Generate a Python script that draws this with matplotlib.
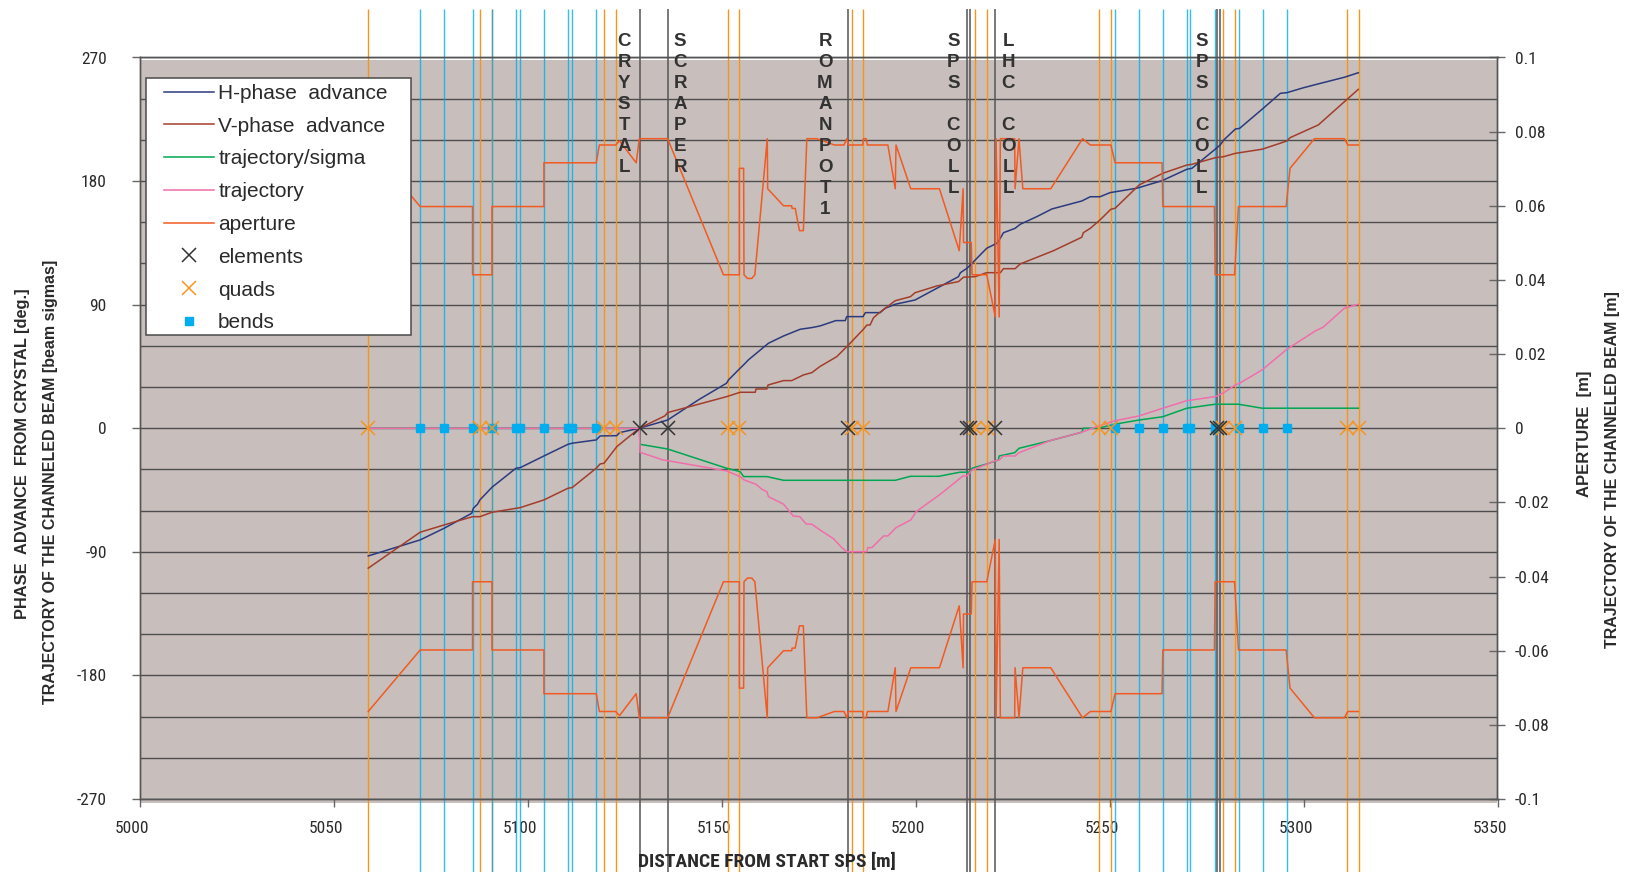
import numpy as np
import matplotlib
matplotlib.use("Agg")
import matplotlib.pyplot as plt
from matplotlib import font_manager as fm
from matplotlib.lines import Line2D
from matplotlib.patches import Rectangle
from matplotlib.transforms import blended_transform_factory, ScaledTranslation
from matplotlib.ticker import MultipleLocator, FixedLocator, FuncFormatter

plt.rcParams["axes.unicode_minus"] = False

# ---------------- data ----------------
# phase advance from the crystal [deg]
h_phase_s = [5058.8, 5072.2, 5078.4, 5085.5, 5085.9, 5087.0, 5087.6, 5090.7, 5096.9, 5098.0,
             5104.1, 5110.3, 5111.4, 5117.6, 5118.6, 5122.9, 5123.6, 5128.7, 5136.0, 5143.9,
             5151.2, 5151.7, 5154.7, 5156.0, 5156.8, 5162.0, 5165.9, 5168.0, 5170.2, 5173.2,
             5175.3, 5179.4, 5181.8, 5182.2, 5186.4, 5187.0, 5190.8, 5192.1, 5194.7, 5199.8,
             5205.4, 5211.0, 5211.5, 5213.2, 5214.5, 5215.3, 5218.3, 5220.9, 5221.8, 5222.6,
             5225.6, 5226.9, 5231.2, 5235.1, 5242.8, 5245.0, 5247.5, 5250.1, 5257.0, 5263.5,
             5269.9, 5271.2, 5277.2, 5278.5, 5279.4, 5282.4, 5283.5, 5289.3, 5294.0, 5295.7,
             5300.0, 5303.4, 5310.5, 5314.1]
h_phase_deg = [-93.0, -81.3, -72.8, -61.9, -58.3, -55.3, -52.2, -43.0, -29.1, -28.7,
               -20.2, -11.7, -10.9, -8.5, -5.6, -5.4, -3.2, 0.0, 6.0, 20.6,
               32.8, 35.2, 43.7, 47.3, 49.7, 61.9, 67.2, 69.6, 72.1, 73.3,
               74.5, 78.4, 78.4, 81.3, 81.3, 84.2, 84.2, 87.4, 90.3, 93.4,
               101.9, 110.4, 113.3, 116.5, 120.1, 122.5, 131.1, 134.7, 138.4, 142.4,
               145.6, 148.5, 154.1, 159.7, 165.5, 168.6, 168.6, 171.6, 174.8, 180.3,
               188.6, 189.3, 203.2, 206.3, 209.9, 217.9, 218.4, 232.3, 243.9, 244.4,
               248.0, 250.5, 255.6, 258.9]

v_phase_s = [5058.8, 5072.2, 5078.4, 5085.7, 5087.6, 5090.7, 5098.0, 5104.1, 5110.3, 5111.4,
             5117.6, 5118.6, 5119.6, 5122.9, 5128.7, 5135.3, 5136.0, 5151.2, 5154.7, 5158.6,
             5158.8, 5161.6, 5161.9, 5165.9, 5168.0, 5171.0, 5173.2, 5175.3, 5179.6, 5182.2,
             5186.5, 5187.4, 5188.2, 5189.1, 5190.4, 5194.7, 5198.6, 5199.8, 5205.4, 5211.0,
             5212.3, 5215.3, 5218.3, 5221.8, 5222.6, 5225.6, 5226.9, 5235.5, 5242.8, 5243.2,
             5245.0, 5247.5, 5250.3, 5251.4, 5257.6, 5263.7, 5269.9, 5271.2, 5277.2, 5279.4,
             5282.4, 5289.3, 5295.7, 5296.5, 5303.8, 5314.1]
v_phase_deg = [-101.9, -75.7, -70.4, -64.4, -64.4, -61.2, -57.8, -52.2, -43.7, -43.2,
               -29.1, -26.0, -25.5, -13.4, 0.0, 9.0, 11.4, 23.0, 26.2, 26.2,
               28.6, 28.6, 31.5, 34.7, 34.7, 38.8, 40.5, 45.0, 52.1, 59.4,
               72.1, 75.2, 75.2, 80.5, 83.7, 92.9, 95.8, 98.7, 103.6, 106.8,
               110.0, 110.4, 113.3, 113.3, 116.2, 116.2, 119.6, 129.3, 139.1, 142.4,
               145.6, 151.7, 159.5, 160.2, 177.2, 185.7, 191.7, 192.2, 197.0, 197.8,
               200.2, 203.2, 209.2, 211.6, 220.9, 246.8]

# channeled-beam trajectory in units of beam sigma
traj_sigma_s = [5058.8, 5128.7, 5128.9, 5136.0, 5151.2, 5154.7, 5155.6, 5161.6, 5165.9, 5194.7,
                5198.6, 5205.9, 5211.4, 5214.0, 5214.5, 5218.3, 5221.3, 5221.5, 5225.5, 5226.6,
                5234.7, 5242.8, 5243.2, 5247.0, 5251.4, 5257.6, 5263.7, 5269.9, 5277.2, 5283.2,
                5289.3, 5314.1]
traj_sigma = [0.0, 0.0, -11.7, -15.1, -29.1, -31.6, -35.2, -35.2, -37.9, -37.9,
              -35.0, -35.0, -32.0, -32.0, -29.1, -26.0, -23.1, -20.2, -17.8, -14.6,
              -9.0, -2.9, 0.0, 0.0, 3.0, 6.0, 8.4, 14.6, 17.5, 17.5,
              14.6, 14.6]

# channeled-beam trajectory [m]
traj_s = [5058.8, 5128.7, 5128.9, 5134.8, 5136.0, 5151.2, 5154.7, 5155.7, 5158.8, 5160.3,
          5161.6, 5162.0, 5165.9, 5168.4, 5170.1, 5171.7, 5173.2, 5175.3, 5178.8, 5180.9,
          5182.2, 5187.4, 5187.6, 5188.7, 5191.7, 5192.8, 5194.9, 5198.7, 5200.1, 5206.3,
          5212.2, 5213.2, 5214.5, 5218.3, 5220.5, 5221.5, 5222.6, 5225.6, 5226.6, 5234.7,
          5242.8, 5246.7, 5251.4, 5257.6, 5263.7, 5269.9, 5277.2, 5279.4, 5282.4, 5283.5,
          5289.3, 5295.7, 5296.5, 5303.1, 5305.0, 5310.5, 5314.1]
traj_m = [0.0, 0.0, -0.00648, -0.00856, -0.00874, -0.01152, -0.01304, -0.01393, -0.01511, -0.01644,
          -0.01711, -0.01844, -0.02048, -0.02367, -0.02385, -0.02581, -0.02589, -0.02744, -0.02981, -0.03219,
          -0.03330, -0.03330, -0.03219, -0.03219, -0.02904, -0.02904, -0.02681, -0.02474, -0.02248, -0.01781,
          -0.01285, -0.01285, -0.01126, -0.00970, -0.00874, -0.00856, -0.00748, -0.00748, -0.00659, -0.00333,
          -0.00107, 0.00044, 0.00204, 0.00333, 0.00541, 0.00744, 0.00852, 0.00959, 0.01167, 0.01215,
          0.01574, 0.02130, 0.02185, 0.02630, 0.02722, 0.03237, 0.03344]

# half aperture [m] (drawn as +/-)
aperture_s = [5058.8, 5072.2, 5085.7, 5085.7, 5090.7, 5090.7, 5104.1, 5104.1, 5117.6, 5118.4,
              5122.6, 5123.6, 5127.9, 5128.7, 5136.0, 5150.4, 5154.5, 5154.5, 5155.6, 5155.7,
              5156.6, 5157.7, 5158.5, 5161.7, 5161.8, 5165.9, 5168.0, 5168.1, 5168.9, 5170.0,
              5171.0, 5171.9, 5174.5, 5179.0, 5181.5, 5182.2, 5182.6, 5186.3, 5186.5, 5187.2,
              5187.5, 5192.8, 5194.7, 5194.9, 5198.7, 5206.1, 5211.2, 5212.2, 5212.3, 5214.3,
              5214.5, 5218.3, 5220.5, 5220.7, 5221.5, 5221.8, 5225.5, 5225.6, 5226.6, 5227.6,
              5234.8, 5243.0, 5245.0, 5250.3, 5251.4, 5263.5, 5263.7, 5277.0, 5277.2, 5282.2,
              5283.2, 5295.5, 5296.5, 5302.8, 5310.5, 5311.4, 5314.1]
aperture_m = [0.0764, 0.0598, 0.0598, 0.0414, 0.0414, 0.0598, 0.0598, 0.0716, 0.0716, 0.0764,
              0.0764, 0.0775, 0.0716, 0.0781, 0.0781, 0.0414, 0.0414, 0.0701, 0.0701, 0.0414,
              0.0404, 0.0404, 0.0414, 0.0781, 0.0646, 0.0600, 0.0600, 0.0593, 0.0593, 0.0533,
              0.0533, 0.0781, 0.0781, 0.0764, 0.0764, 0.0781, 0.0764, 0.0764, 0.0781, 0.0781,
              0.0764, 0.0764, 0.0646, 0.0764, 0.0646, 0.0646, 0.0479, 0.0646, 0.0501, 0.0501,
              0.0414, 0.0414, 0.0300, 0.0781, 0.0300, 0.0781, 0.0781, 0.0646, 0.0781, 0.0646,
              0.0646, 0.0781, 0.0764, 0.0764, 0.0716, 0.0716, 0.0598, 0.0598, 0.0414, 0.0414,
              0.0598, 0.0598, 0.0701, 0.0781, 0.0781, 0.0764, 0.0764]

# lattice elements [m]
element_s = [5128.8, 5136.0, 5182.4, 5213.2, 5213.9, 5220.5, 5277.7, 5278.4]
quad_s = [5058.8, 5087.6, 5090.7, 5119.6, 5122.6, 5151.5, 5154.5, 5183.5, 5186.5,
          5215.3, 5218.3, 5247.3, 5250.3, 5279.2, 5282.3, 5311.2, 5314.2]
bend_s = [5072.2, 5078.4, 5085.7, 5090.7, 5096.9, 5097.9, 5104.1, 5110.4, 5111.4, 5117.6,
          5251.3, 5257.6, 5263.7, 5269.9, 5270.8, 5277.1, 5283.3, 5289.5, 5295.7]

# names written vertically above the devices
device_names = ["CRYSTAL", "SCRAPER", "ROMANPOT1", "SPS COLL", "LHC COLL", "SPS COLL"]
device_name_s = [5124.8, 5139.2, 5176.6, 5209.7, 5223.9, 5273.8]

# ---------------- fonts ----------------
SANS = ["Liberation Sans", "DejaVu Sans"]
_fonts = fm.fontManager.ttflist
_names = {f.name for f in _fonts}


def narrow_font():
    """Pick a condensed sans face if one is installed."""
    for name in ["Liberation Sans Narrow", "Arial Narrow", "Nimbus Sans Narrow",
                 "Roboto Condensed", "Open Sans Condensed", "DejaVu Sans Condensed"]:
        if name in _names:
            return dict(family=name), True
    for f in _fonts:
        if f.name in ("DejaVu Sans", "Liberation Sans", "Noto Sans") and f.stretch == "condensed":
            return dict(family=f.name, stretch="condensed"), True
    return dict(family=SANS), False


NARROW, HAVE_NARROW = narrow_font()
TICK_SIZE = 12.5 if HAVE_NARROW else 11
XLAB_SIZE = 14 if HAVE_NARROW else 11.5

# ---------------- style ----------------
BG = "#C8BFBC"
GRID = "#4d4d4d"
C_H = "#2B3A7E"
C_V = "#A33D2B"
C_SIG = "#00A651"
C_TRAJ = "#F06EAA"
C_AP = "#F15A22"
C_QUAD = "#F7941D"
C_BEND = "#00AEEF"
C_ELEM_LINE = "#555555"
C_ELEM = "#333333"
TXT = "#2a2a2a"

W, H = 1630, 872
fig = plt.figure(figsize=(W / 100, H / 100), dpi=100)
ax = fig.add_axes([140.2 / W, (H - 799) / H, 1357.3 / W, 741.5 / H])
ax2 = ax.twinx()

ax.set_xlim(5000, 5350)
ax.set_ylim(-270, 270)
ax2.set_ylim(-0.1, 0.1)

# plot-area background
ax.set_facecolor("white")
ax.add_patch(Rectangle((0, -0.0054), 1, 1.002, transform=ax.transAxes,
                       facecolor=BG, edgecolor="none", zorder=0.2, clip_on=False))

# horizontal grid every 30 deg
ax.yaxis.set_major_locator(MultipleLocator(90))
ax.yaxis.set_minor_locator(MultipleLocator(30))
ax.set_axisbelow(True)
ax.grid(True, which="both", axis="y", color=GRID, lw=1.0, zorder=0.5)
ax.grid(False, axis="x")

# element markers as full-height vertical lines
vtr = blended_transform_factory(ax.transData, fig.transFigure)
ax.vlines(quad_s, 0, 0.99, transform=vtr, colors=C_QUAD, lw=1.0, zorder=1.5, clip_on=False)
ax.vlines(bend_s, 0, 0.99, transform=vtr, colors=C_BEND, lw=1.0, alpha=0.8, zorder=1.6, clip_on=False)
ax.vlines(element_s, 0, 0.99, transform=vtr, colors=C_ELEM_LINE, lw=1.1, zorder=1.7, clip_on=False)

# curves on the left axis
ax.plot(h_phase_s, h_phase_deg, color=C_H, lw=1.1, zorder=3)
ax.plot(v_phase_s, v_phase_deg, color=C_V, lw=1.1, zorder=3)
ax.plot(traj_sigma_s, traj_sigma, color=C_SIG, lw=1.1, zorder=3)

# curves on the right axis
ax2.plot(traj_s, traj_m, color=C_TRAJ, lw=1.1, zorder=3)
ap = np.array(aperture_m)
ax2.plot(aperture_s, ap, color=C_AP, lw=1.1, zorder=3)
ax2.plot(aperture_s, -ap, color=C_AP, lw=1.1, zorder=3)

# element symbols on the axis
ax2.plot(bend_s, np.zeros(len(bend_s)), ls="none", marker="s", ms=6, color=C_BEND, zorder=5)
ax2.plot(quad_s, np.zeros(len(quad_s)), ls="none", marker="x", ms=9.5, mew=1.1, color=C_QUAD, zorder=5)
ax2.plot(element_s, np.zeros(len(element_s)), ls="none", marker="x", ms=9.5, mew=1.1, color=C_ELEM, zorder=5)

# device names, one letter per row
ntr = blended_transform_factory(ax2.transData, fig.transFigure)
for name, xs in zip(device_names, device_name_s):
    for i, ch in enumerate(name):
        if ch == " ":
            continue
        ax2.text(xs, 1 - (46.5 + 20.9 * i) / H, ch, transform=ntr, ha="center", va="baseline",
                 fontsize=13.5, fontweight="bold", family=SANS, color="#333333", zorder=8)

# ---------------- axes, ticks ----------------
for a in (ax, ax2):
    for sp in a.spines.values():
        sp.set_color("#555555")
        sp.set_linewidth(1.0)

ax.xaxis.set_major_locator(MultipleLocator(50))
ax.tick_params(axis="x", which="major", direction="out", length=6, width=1, color="#666666",
               pad=10, labelsize=TICK_SIZE, labelcolor=TXT)
ax.tick_params(axis="y", which="major", direction="out", length=6, width=1, color="#666666",
               pad=18, labelsize=TICK_SIZE, labelcolor=TXT)
ax.tick_params(axis="y", which="minor", length=0)
ax.yaxis.set_major_formatter(FuncFormatter(lambda v, p: f"{v:g}"))

ax2.yaxis.set_major_locator(FixedLocator(np.round(np.arange(-0.1, 0.1001, 0.02), 2)))
ax2.yaxis.set_major_formatter(FuncFormatter(lambda v, p: "0" if abs(v) < 1e-9 else f"{v:g}"))
ax2.tick_params(axis="y", direction="inout", length=11, width=1, color="#666666",
                pad=7, labelsize=TICK_SIZE, labelcolor=TXT)

for lbl in ax.get_xticklabels() + ax.get_yticklabels() + ax2.get_yticklabels():
    lbl.set(**NARROW)
shift = ScaledTranslation(-8 / 100, 0, fig.dpi_scale_trans)
for lbl in ax.get_xticklabels():
    lbl.set_transform(lbl.get_transform() + shift)

# axis titles
lab = dict(fontweight="bold", color=TXT, family=SANS, ha="center", va="center")
fig.text(23 / W, 1 - 454 / H, "PHASE  ADVANCE  FROM CRYSTAL [deg.]", rotation=90, fontsize=11.8, **lab)
fig.text(51 / W, 1 - 482 / H, "TRAJECTORY OF THE CHANNELED BEAM [beam sigmas]", rotation=90, fontsize=11.5, **lab)
fig.text(1585 / W, 1 - 434 / H, "APERTURE  [m]", rotation=90, fontsize=12, **lab)
fig.text(1613 / W, 1 - 470 / H, "TRAJECTORY OF THE CHANNELED BEAM [m]", rotation=90, fontsize=11.5, **lab)
xl = fig.text(767 / W, 1 - 862 / H, "DISTANCE FROM START SPS [m]", fontsize=XLAB_SIZE, fontweight="bold",
              color=TXT, ha="center", va="center")
xl.set(**NARROW)

# ---------------- legend ----------------
ax2.add_patch(Rectangle((145.5 / W, 1 - 335 / H), 265.5 / W, 256.7 / H, transform=fig.transFigure,
                        facecolor="white", edgecolor="#4a4a4a", lw=1.1, zorder=9, clip_on=False))
handles = [
    Line2D([], [], color=C_H, lw=1.1),
    Line2D([], [], color=C_V, lw=1.1),
    Line2D([], [], color=C_SIG, lw=1.1),
    Line2D([], [], color=C_TRAJ, lw=1.1),
    Line2D([], [], color=C_AP, lw=1.1),
    Line2D([], [], ls="none", marker="x", ms=9.5, mew=1.1, color=C_ELEM),
    Line2D([], [], ls="none", marker="x", ms=9.5, mew=1.1, color=C_QUAD),
    Line2D([], [], ls="none", marker="s", ms=6, color=C_BEND),
]
labels = ["H-phase  advance", "V-phase  advance", "trajectory/sigma", "trajectory", "aperture",
          "elements", "quads", "bends"]
leg = ax2.legend(handles, labels, loc="upper left", bbox_to_anchor=(164 / W, 1 - 84 / H),
                 bbox_transform=fig.transFigure, frameon=False, borderpad=0, borderaxespad=0,
                 handlelength=2.4, handletextpad=0.2, labelspacing=0.66,
                 prop={"family": SANS, "size": 15}, labelcolor=TXT)
leg.set_zorder(10)

fig.savefig("out.png", dpi=100)
